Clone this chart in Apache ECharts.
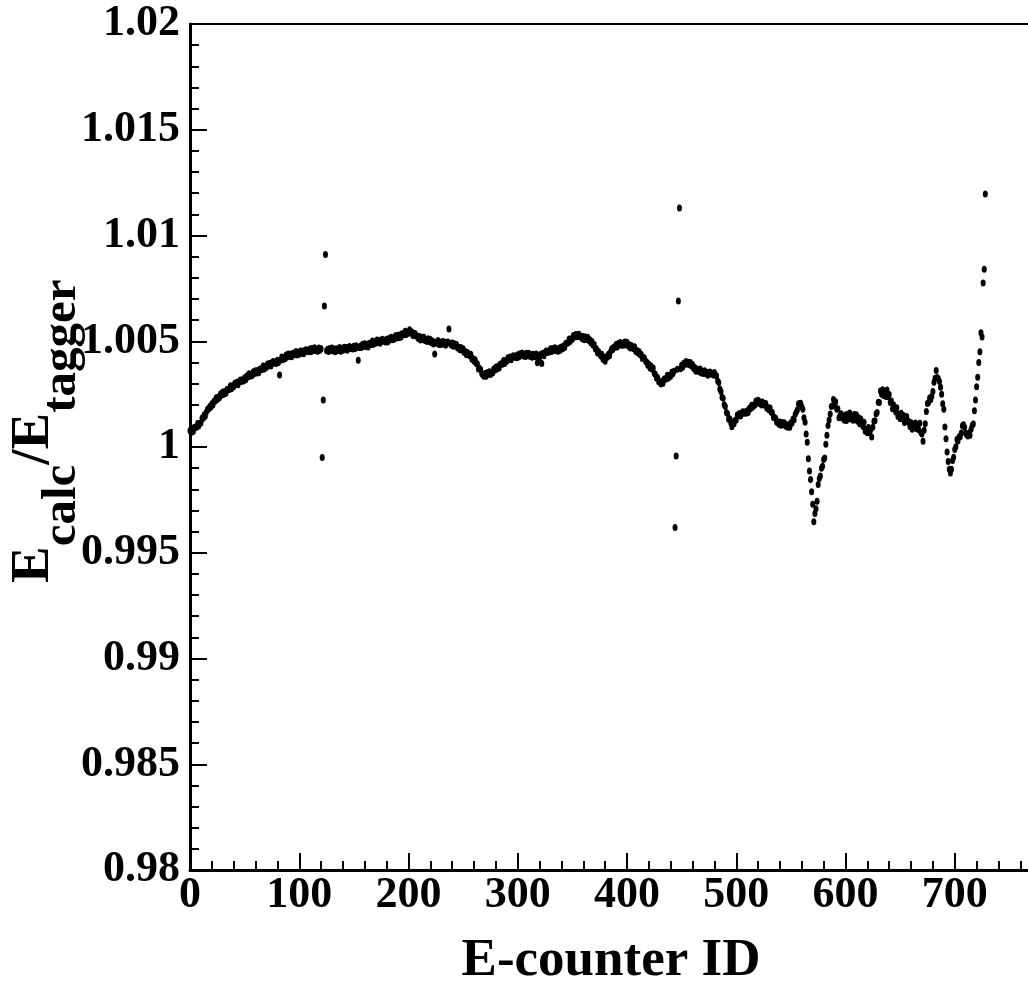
<!DOCTYPE html>
<html><head><meta charset="utf-8">
<script src="https://cdn.jsdelivr.net/npm/echarts@6/dist/echarts.min.js"></script>
<style>html,body{margin:0;padding:0;background:#fff}#chart{width:1028px;height:988px}</style>
</head><body><div id="chart"></div>
<script>
// E_calc/E_tagger ratio per E-counter ID (index = counter ID, 0..728)
const ratio = [
1.00078,1.00068,1.00082,1.00073,1.00093,1.00092,1.00093,1.00111,1.00099,1.00112,
1.00114,1.00137,1.00135,1.00152,1.00145,1.00166,1.00179,1.00178,1.00191,1.00188,
1.00205,1.00198,1.00218,1.00216,1.00233,1.00224,1.00236,1.00233,1.00252,1.00245,
1.00260,1.00250,1.00263,1.00254,1.00273,1.00272,1.00272,1.00290,1.00276,1.00289,
1.00285,1.00302,1.00295,1.00306,1.00294,1.00310,1.00317,1.00310,1.00318,1.00312,
1.00327,1.00318,1.00336,1.00331,1.00346,1.00335,1.00344,1.00338,1.00356,1.00348,
1.00361,1.00350,1.00362,1.00351,1.00369,1.00367,1.00366,1.00383,1.00369,1.00380,
1.00376,1.00393,1.00385,1.00396,1.00383,1.00397,1.00404,1.00396,1.00402,1.00395,
1.00410,1.00399,1.00340,1.00411,1.00425,1.00413,1.00422,1.00417,1.00435,1.00426,
1.00440,1.00429,1.00439,1.00427,1.00443,1.00439,1.00436,1.00451,1.00435,1.00445,
1.00439,1.00454,1.00445,1.00454,1.00441,1.00455,1.00460,1.00452,1.00458,1.00450,
1.00464,1.00451,1.00466,1.00458,1.00469,1.00455,1.00461,1.00453,1.00468,1.00457,
1.00465,0.99950,1.00222,1.00667,1.00910,1.00455,1.00462,1.00452,1.00466,1.00458,
1.00468,1.00454,1.00463,1.00450,1.00465,1.00460,1.00456,1.00470,1.00453,1.00462,
1.00457,1.00472,1.00462,1.00471,1.00457,1.00470,1.00475,1.00466,1.00471,1.00463,
1.00476,1.00464,1.00479,1.00472,1.00410,1.00471,1.00478,1.00471,1.00486,1.00476,
1.00488,1.00475,1.00485,1.00473,1.00490,1.00487,1.00485,1.00501,1.00486,1.00497,
1.00491,1.00506,1.00496,1.00505,1.00491,1.00504,1.00509,1.00500,1.00505,1.00497,
1.00509,1.00497,1.00513,1.00506,1.00519,1.00507,1.00515,1.00509,1.00526,1.00516,
1.00528,1.00517,1.00529,1.00519,1.00536,1.00533,1.00531,1.00547,1.00532,1.00543,
1.00538,1.00554,1.00540,1.00545,1.00527,1.00536,1.00537,1.00524,1.00525,1.00513,
1.00522,1.00506,1.00519,1.00510,1.00519,1.00504,1.00508,1.00499,1.00512,1.00500,
1.00508,1.00493,1.00501,1.00487,1.00440,1.00495,1.00490,1.00503,1.00485,1.00493,
1.00485,1.00499,1.00488,1.00496,1.00481,1.00493,1.00497,1.00558,1.00491,1.00482,
1.00492,1.00476,1.00488,1.00477,1.00485,1.00468,1.00471,1.00460,1.00471,1.00457,
1.00464,1.00447,1.00452,1.00436,1.00447,1.00439,1.00431,1.00439,1.00415,1.00418,
1.00405,1.00412,1.00395,1.00394,1.00369,1.00372,1.00366,1.00347,1.00341,1.00334,
1.00347,1.00335,1.00351,1.00344,1.00356,1.00343,1.00353,1.00350,1.00369,1.00363,
1.00378,1.00369,1.00382,1.00374,1.00393,1.00392,1.00391,1.00409,1.00395,1.00408,
1.00405,1.00422,1.00415,1.00426,1.00413,1.00427,1.00432,1.00424,1.00430,1.00422,
1.00436,1.00425,1.00441,1.00433,1.00444,1.00430,1.00436,1.00428,1.00443,1.00432,
1.00443,1.00429,1.00437,1.00424,1.00438,1.00432,1.00427,1.00440,1.00398,1.00430,
1.00422,1.00439,1.00395,1.00443,1.00431,1.00447,1.00454,1.00447,1.00454,1.00449,
1.00464,1.00451,1.00466,1.00458,1.00469,1.00455,1.00461,1.00453,1.00468,1.00457,
1.00473,1.00464,1.00478,1.00470,1.00490,1.00490,1.00492,1.00511,1.00499,1.00512,
1.00509,1.00527,1.00520,1.00532,1.00521,1.00531,1.00533,1.00521,1.00523,1.00512,
1.00522,1.00507,1.00520,1.00510,1.00519,1.00503,1.00507,1.00492,1.00499,1.00481,
1.00485,1.00463,1.00465,1.00445,1.00452,1.00440,1.00430,1.00438,1.00415,1.00418,
1.00405,1.00427,1.00424,1.00439,1.00432,1.00452,1.00464,1.00461,1.00473,1.00472,
1.00485,1.00473,1.00489,1.00482,1.00494,1.00481,1.00488,1.00481,1.00497,1.00487,
1.00495,1.00478,1.00484,1.00468,1.00480,1.00472,1.00465,1.00474,1.00452,1.00456,
1.00444,1.00452,1.00436,1.00439,1.00419,1.00423,1.00421,1.00405,1.00402,1.00387,
1.00393,1.00374,1.00383,1.00368,1.00373,1.00348,1.00344,1.00325,1.00329,1.00308,
1.00308,1.00298,1.00311,1.00302,1.00322,1.00321,1.00321,1.00339,1.00326,1.00338,
1.00335,1.00353,1.00346,1.00358,0.99619,0.99957,1.00368,1.00690,1.01130,1.00370,
1.00386,1.00377,1.00396,1.00391,1.00404,1.00393,1.00401,1.00389,1.00399,1.00383,
1.00390,1.00371,1.00376,1.00358,1.00369,1.00362,1.00356,1.00369,1.00350,1.00357,
1.00348,1.00361,1.00348,1.00354,1.00339,1.00351,1.00355,1.00345,1.00349,1.00340,
1.00352,1.00339,1.00337,1.00312,1.00305,1.00274,1.00263,1.00235,1.00231,1.00200,
1.00191,1.00163,1.00158,1.00131,1.00133,1.00114,1.00096,1.00118,1.00110,1.00127,
1.00128,1.00151,1.00148,1.00158,1.00146,1.00160,1.00167,1.00159,1.00166,1.00159,
1.00171,1.00163,1.00183,1.00181,1.00197,1.00188,1.00199,1.00197,1.00217,1.00211,
1.00221,1.00206,1.00213,1.00199,1.00213,1.00206,1.00197,1.00206,1.00183,1.00187,
1.00175,1.00184,1.00164,1.00163,1.00139,1.00141,1.00136,1.00117,1.00119,1.00108,
1.00118,1.00103,1.00116,1.00106,1.00115,1.00099,1.00103,1.00093,1.00106,1.00093,
1.00115,1.00112,1.00132,1.00129,1.00155,1.00165,1.00176,1.00205,1.00203,1.00207,
1.00190,1.00179,1.00138,1.00117,1.00061,1.00023,0.99945,0.99887,0.99846,0.99789,
0.99729,0.99646,0.99686,0.99708,0.99743,0.99823,0.99851,0.99863,0.99899,0.99909,
0.99941,0.99948,1.00013,1.00055,1.00102,1.00128,1.00156,1.00191,1.00194,1.00224,
1.00199,1.00214,1.00178,1.00181,1.00138,1.00149,1.00157,1.00137,1.00145,1.00127,
1.00151,1.00125,1.00155,1.00139,1.00161,1.00132,1.00143,1.00126,1.00154,1.00131,
1.00152,1.00122,1.00138,1.00110,1.00132,1.00113,1.00097,1.00117,1.00074,1.00084,
1.00067,1.00092,1.00067,1.00080,1.00047,1.00093,1.00122,1.00124,1.00157,1.00163,
1.00212,1.00210,1.00265,1.00249,1.00271,1.00243,1.00255,1.00239,1.00269,1.00237,
1.00248,1.00210,1.00217,1.00181,1.00200,1.00182,1.00166,1.00186,1.00144,1.00155,
1.00133,1.00159,1.00135,1.00149,1.00116,1.00138,1.00144,1.00118,1.00121,1.00097,
1.00115,1.00084,1.00108,1.00092,1.00114,1.00086,1.00098,1.00082,1.00112,1.00069,
1.00062,1.00027,1.00079,1.00110,1.00168,1.00206,1.00210,1.00232,1.00223,1.00240,
1.00263,1.00306,1.00325,1.00362,1.00329,1.00323,1.00310,1.00282,1.00249,1.00204,
1.00179,1.00095,1.00039,0.99976,0.99932,0.99895,0.99877,0.99895,0.99936,0.99951,
0.99988,1.00001,1.00036,1.00028,1.00049,1.00049,1.00066,1.00101,1.00105,1.00093,
1.00065,1.00058,1.00052,1.00066,1.00056,1.00084,1.00103,1.00109,1.00171,1.00222,
1.00285,1.00330,1.00400,1.00450,1.00540,1.00520,1.00775,1.00840,1.01196
];
const counterIds = ratio.map((_, i) => i);
const xTickValues = [0, 100, 200, 300, 400, 500, 600, 700];
const yTickValues = [0.98, 0.985, 0.99, 0.995, 1, 1.005, 1.01, 1.015, 1.02];
const xTitle = 'E-counter ID';
const yTitleParts = [['E', false], ['calc', true], ['/E', false], ['tagger', true]];

const FONT = '"Liberation Serif", "Times New Roman", serif';
const points = counterIds.map((id, i) => [id, ratio[i]]);

const chart = echarts.init(document.getElementById('chart'), null, {renderer: 'canvas'});

// y title layout (rotated, with subscripts)
const mctx = document.createElement('canvas').getContext('2d');
const mainSize = 55, subSize = 49;
let cx = 0;
const titleChildren = yTitleParts.map(([t, sub]) => {
  const size = sub ? subSize : mainSize;
  mctx.font = 'bold ' + size + 'px ' + FONT;
  const w = mctx.measureText(t).width;
  const el = {
    type: 'text', x: cx, y: sub ? 12 : -16.5,
    style: {text: t, fontSize: size, fontWeight: 'bold', fontFamily: FONT, fill: '#000',
            textAlign: 'left', textVerticalAlign: 'middle'}
  };
  cx += w;
  return el;
});

const tickStyle = {color: '#000', width: 2};
chart.setOption({
  animation: false,
  backgroundColor: '#fff',
  grid: {left: 190, top: 24, width: 874, height: 846, show: true, borderColor: '#000', borderWidth: 2,
         backgroundColor: 'transparent', outerBoundsMode: 'none', containLabel: false},
  xAxis: {
    type: 'value', min: 0, max: 800, interval: 100,
    axisLine: {show: true, lineStyle: {color: '#000', width: 3}},
    axisTick: {show: true, inside: true, length: 17, lineStyle: tickStyle},
    minorTick: {show: true, splitNumber: 5, length: 9, lineStyle: tickStyle},
    splitLine: {show: false},
    axisLabel: {show: true, showMaxLabel: false, margin: 4, color: '#000', fontSize: 44, fontWeight: 'bold', fontFamily: FONT,
      formatter: v => xTickValues.includes(v) ? String(v) : ''}
  },
  yAxis: {
    type: 'value', min: 0.98, max: 1.02, interval: 0.005,
    axisLine: {show: true, lineStyle: {color: '#000', width: 3}},
    axisTick: {show: true, inside: true, length: 17, lineStyle: tickStyle},
    minorTick: {show: true, splitNumber: 5, length: 9, lineStyle: tickStyle},
    splitLine: {show: false},
    axisLabel: {show: true, margin: 10, color: '#000', fontSize: 44, fontWeight: 'bold', fontFamily: FONT,
      formatter: v => {
        const r = Number(v.toFixed(3));
        return yTickValues.some(t => Math.abs(t - r) < 1e-9) ? String(r) : '';
      }}
  },
  series: [{
    type: 'scatter', data: points, symbol: 'circle', symbolSize: [5, 7],
    itemStyle: {color: '#000', opacity: 1}, silent: true, clip: true
  }],
  graphic: [
    {type: 'text', x: 611, y: 961,
     style: {text: xTitle, fontSize: 53, fontWeight: 'bold', fontFamily: FONT, fill: '#000',
             textAlign: 'center', textVerticalAlign: 'middle'}},
    {type: 'group', x: 50, y: 583, rotation: Math.PI / 2, children: titleChildren}
  ]
});
</script></body></html>
